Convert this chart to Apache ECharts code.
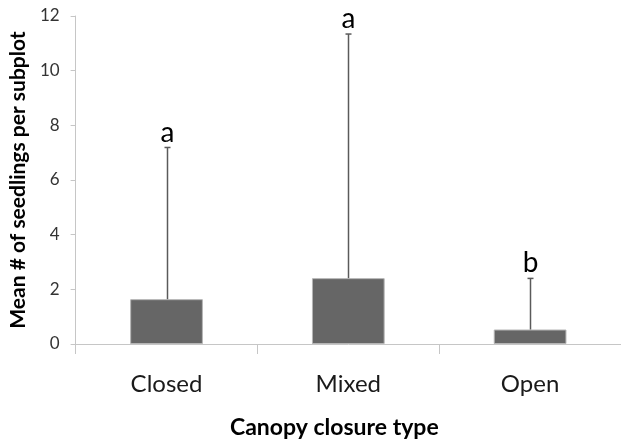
<!DOCTYPE html>
<html>
<head>
<meta charset="utf-8">
<script src="https://cdn.jsdelivr.net/npm/echarts@6/dist/echarts.min.js"></script>
<style>
  html, body { margin: 0; padding: 0; background: #fff; }
</style>
</head>
<body>
<div id="main" style="width: 621px;height:444px;"></div>
<script>
// data
var categories = ['Closed', 'Mixed', 'Open']
var means = [1.64, 2.41, 0.53]
var upperErr = [7.19, 11.34, 2.4]
var letters = ['a', 'a', 'b']
var yTicks = [0, 2, 4, 6, 8, 10, 12]

var myChart = echarts.init(document.getElementById('main'))

var errData = categories.map(function (c, i) {
  return [i, means[i], upperErr[i], letters[i]]
})

var option = {
  animation: false,
  backgroundColor: '#fff',
  grid: {
    left: 73,
    right: -3,
    top: 16,
    bottom: 99
  },
  xAxis: {
    type: 'category',
    data: categories,
    name: 'Canopy closure type',
    nameLocation: 'middle',
    nameGap: 72,
    nameTextStyle: {
      fontFamily: 'Lato',
      fontWeight: 'bold',
      fontSize: 23,
      color: '#000',
      padding: [0, 28, 0, 0]
    },
    axisLine: { lineStyle: { color: '#c6c6c6', width: 1 } },
    axisTick: { show: true, length: 10, lineStyle: { color: '#c6c6c6' } },
    axisLabel: {
      fontFamily: 'Lato',
      fontSize: 24,
      color: '#1a1a1a',
      margin: 28
    }
  },
  yAxis: {
    type: 'value',
    min: yTicks[0],
    max: yTicks[yTicks.length - 1],
    interval: 2,
    name: 'Mean # of seedlings per subplot',
    nameLocation: 'middle',
    nameGap: 37,
    nameTextStyle: {
      fontFamily: 'Lato',
      fontWeight: 'bold',
      fontSize: 21,
      color: '#000'
    },
    axisLine: { show: true, lineStyle: { color: '#c6c6c6', width: 1 } },
    axisTick: { show: true, length: 5, lineStyle: { color: '#c6c6c6' } },
    splitLine: { show: false },
    axisLabel: {
      fontFamily: 'Lato',
      fontSize: 17,
      color: '#333',
      margin: 16
    }
  },
  series: [
    {
      type: 'bar',
      data: means,
      barWidth: '40%',
      itemStyle: {
        color: '#666666',
        borderColor: '#b5b5b5',
        borderWidth: 1
      },
      z: 2
    },
    {
      type: 'custom',
      data: errData,
      z: 3,
      renderItem: function (params, api) {
        var base = api.coord([api.value(0), api.value(1)])
        var top = api.coord([api.value(0), api.value(2)])
        var x = Math.round(base[0]) + 0.5
        return {
          type: 'group',
          children: [
            {
              type: 'line',
              shape: { x1: x, y1: base[1], x2: x, y2: top[1] },
              style: { stroke: '#5a5a5a', lineWidth: 1.5 }
            },
            {
              type: 'line',
              shape: { x1: x - 3, y1: top[1], x2: x + 3, y2: top[1] },
              style: { stroke: '#5a5a5a', lineWidth: 1.5 }
            },
            {
              type: 'text',
              x: x,
              y: top[1] - 1,
              style: {
                text: errData[params.dataIndex][3],
                fontFamily: 'Lato',
                fontSize: 28,
                fill: '#000',
                align: 'center',
                verticalAlign: 'bottom'
              }
            }
          ]
        }
      }
    }
  ]
}

myChart.setOption(option)
</script>
</body>
</html>
